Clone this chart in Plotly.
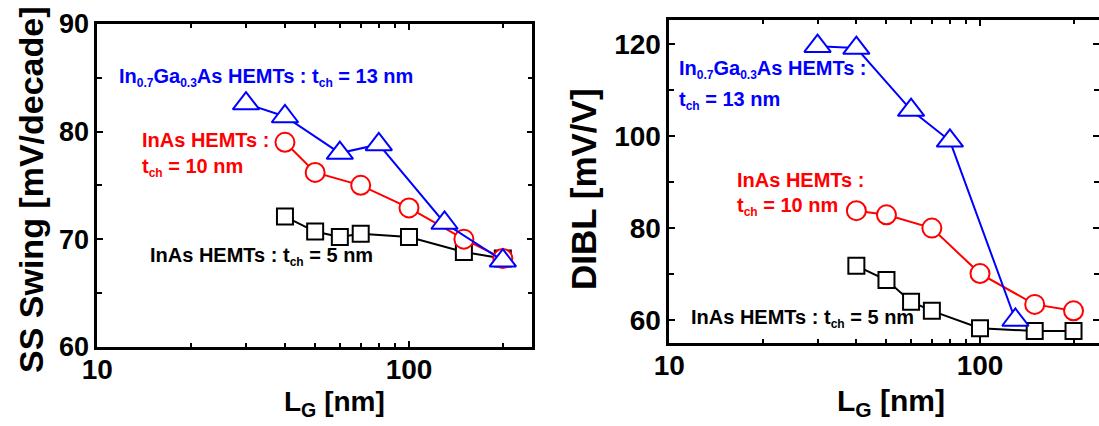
import plotly.graph_objects as go

# ---------------- data ----------------
LG_SS_InGaAs = [30, 40, 60, 80, 130, 200]
SS_InGaAs = [82.6, 81.4, 78.0, 78.8, 71.5, 68.0]
LG_SS_InAs10 = [40, 50, 70, 100, 150, 200]
SS_InAs10 = [79.0, 76.2, 75.0, 72.9, 70.0, 68.2]
LG_SS_InAs5 = [40, 50, 60, 70, 100, 150, 200]
SS_InAs5 = [72.1, 70.7, 70.2, 70.5, 70.2, 68.8, 68.2]

LG_DIBL_InGaAs = [30, 40, 60, 80, 130]
DIBL_InGaAs = [119.6, 119.2, 105.7, 99.0, 60.0]
LG_DIBL_InAs10 = [40, 50, 70, 100, 150, 200]
DIBL_InAs10 = [83.8, 82.9, 80.0, 70.1, 63.4, 62.0]
LG_DIBL_InAs5 = [40, 50, 60, 70, 100, 150, 200]
DIBL_InAs5 = [71.8, 68.7, 64.0, 62.0, 58.2, 57.6, 57.6]

SS_ticks = [60, 70, 80, 90]
DIBL_ticks = [60, 80, 100, 120]

FONT = "Liberation Sans, Arial, sans-serif"
W, H = 1099, 426
BLUE, RED, BLACK = "#0000ff", "#ff0000", "#000000"

fig = go.Figure()


def add_series(x, y, color, symbol, size, xa, ya):
    fig.add_trace(go.Scatter(
        x=x, y=y, mode="lines+markers", xaxis=xa, yaxis=ya,
        line=dict(color=color, width=2),
        marker=dict(symbol=symbol, size=size, color="white",
                    line=dict(color=color, width=2)),
        showlegend=False, cliponaxis=False))


add_series(LG_SS_InAs5, SS_InAs5, BLACK, "square", 16, "x", "y")
add_series(LG_SS_InAs10, SS_InAs10, RED, "circle", 19, "x", "y")
add_series(LG_SS_InGaAs, SS_InGaAs, BLUE, "triangle-up", 23, "x", "y")

add_series(LG_DIBL_InAs5, DIBL_InAs5, BLACK, "square", 16, "x2", "y2")
add_series(LG_DIBL_InAs10, DIBL_InAs10, RED, "circle", 19, "x2", "y2")
add_series(LG_DIBL_InGaAs, DIBL_InGaAs, BLUE, "triangle-up", 23, "x2", "y2")


def xaxis_cfg(domain, rng, anchor, size):
    return dict(domain=domain, type="log", range=rng, anchor=anchor,
                automargin=False,
                showline=True, linecolor="black", linewidth=2.5, mirror="ticks",
                ticks="inside", ticklen=6, tickwidth=2, tickcolor="black",
                dtick=1, showgrid=False, zeroline=False, ticklabelstandoff=-4,
                minor=dict(ticks="inside", ticklen=4, tickwidth=1.5,
                           tickcolor="black", dtick="D1", showgrid=False),
                tickfont=dict(family=FONT, size=size, color="black", weight="bold"))


def yaxis_cfg(domain, rng, anchor, tickvals, minor_dtick, size):
    return dict(domain=domain, range=rng, anchor=anchor,
                automargin=False,
                showline=True, linecolor="black", linewidth=2.5, mirror="ticks",
                ticks="inside", ticklen=6, tickwidth=2, tickcolor="black",
                tickvals=tickvals, showgrid=False, zeroline=False,
                minor=dict(ticks="inside", ticklen=5, tickwidth=1.5,
                           tickcolor="black", dtick=minor_dtick, showgrid=False),
                tickfont=dict(family=FONT, size=size, color="black", weight="bold"))


def px_x(p):
    return p / W


def px_y(p):
    return 1 - p / H


def sub(s, size=12):
    return "<sub><span style='font-size:%dpx'>%s</span></sub>" % (size, s)


ann = []


def text(s, x, y, color, size=20, angle=0, xanchor="left"):
    ann.append(dict(text=s, x=px_x(x), y=px_y(y), xref="paper", yref="paper",
                    xanchor=xanchor, yanchor="middle", showarrow=False,
                    textangle=angle,
                    font=dict(family=FONT, size=size, color=color, weight="bold")))


# left panel labels
text("In" + sub("0.7") + "Ga" + sub("0.3") + "As HEMTs : t" + sub("ch") + " = 13 nm", 117, 77, BLUE)
text("InAs HEMTs :", 140, 140, RED)
text("t" + sub("ch") + " = 10 nm", 140, 167, RED)
text("InAs HEMTs : t" + sub("ch") + " = 5 nm", 148, 256, BLACK)
# right panel labels
text("In" + sub("0.7") + "Ga" + sub("0.3") + "As HEMTs :", 677, 69, BLUE)
text("t" + sub("ch") + " = 13 nm", 677, 101, BLUE)
text("InAs HEMTs :", 735, 180, RED)
text("t" + sub("ch") + " = 10 nm", 735, 206, RED)
text("InAs HEMTs : t" + sub("ch") + " = 5 nm", 689, 318, BLACK)

# axis titles
text("SS Swing [mV/decade]", 31, 190, BLACK, size=34, angle=-90, xanchor="center")
text("DIBL [mV/V]", 583, 189, BLACK, size=35, angle=-90, xanchor="center")
text("L<sub>G</sub> [nm]", 334, 403, BLACK, size=28, xanchor="center")
text("L<sub>G</sub> [nm]", 891, 402, BLACK, size=30, xanchor="center")

fig.update_layout(
    template="none",
    width=W, height=H, autosize=False,
    margin=dict(l=0, r=0, t=0, b=0),
    paper_bgcolor="white", plot_bgcolor="white",
    xaxis=xaxis_cfg([97.3 / W, 532.3 / W], [1, 2.3956], "y", 28),
    yaxis=yaxis_cfg([1 - 346.7 / H, 1 - 24 / H], [60, 90], "x", SS_ticks, 5, 27),
    xaxis2=xaxis_cfg([669.3 / W, 1.0], [1, 2.383], "y2", 28),
    yaxis2=yaxis_cfg([1 - 342.7 / H, 1 - 20 / H], [55.06, 125.3], "x2", DIBL_ticks, 10, 28),
    annotations=ann,
)

fig.write_html(
    "out.html",
    config={"displayModeBar": False},
    post_script="document.body.style.margin='0px';document.body.style.overflow='hidden';",
)
